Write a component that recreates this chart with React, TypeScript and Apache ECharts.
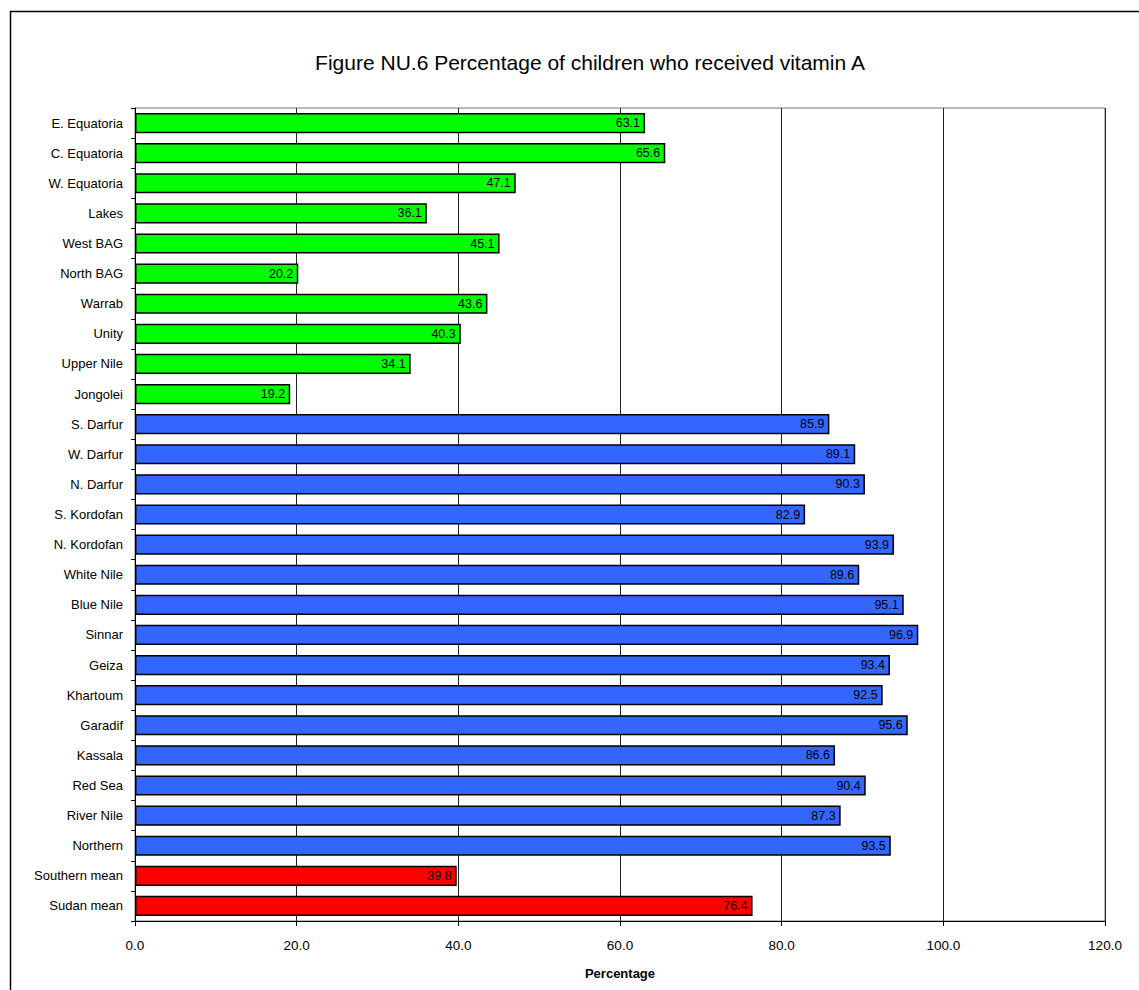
import React, { useEffect, useRef } from "react";
import * as echarts from "echarts";

const categories = [
  "E. Equatoria", "C. Equatoria", "W. Equatoria", "Lakes", "West BAG", "North BAG", "Warrab", "Unity", "Upper Nile", "Jongolei",
  "S. Darfur", "W. Darfur", "N. Darfur", "S. Kordofan", "N. Kordofan", "White Nile", "Blue Nile", "Sinnar", "Geiza", "Khartoum",
  "Garadif", "Kassala", "Red Sea", "River Nile", "Northern", "Southern mean", "Sudan mean",
];
const values = [
  63.1, 65.6, 47.1, 36.1, 45.1, 20.2, 43.6, 40.3, 34.1, 19.2,
  85.9, 89.1, 90.3, 82.9, 93.9, 89.6, 95.1, 96.9, 93.4, 92.5,
  95.6, 86.6, 90.4, 87.3, 93.5, 39.8, 76.4,
];
const groups = [
  "south", "south", "south", "south", "south", "south", "south", "south", "south", "south",
  "north", "north", "north", "north", "north", "north", "north", "north", "north", "north",
  "north", "north", "north", "north", "north", "mean", "mean",
];
const groupColors: Record<string, string> = { south: "#00FF00", north: "#3366FF", mean: "#FF0000" };
const xTicks = [0, 20, 40, 60, 80, 100, 120];

const FONT = "Arial, 'Liberation Sans', sans-serif";

export default function App() {
  const ref = useRef<HTMLDivElement>(null);
  useEffect(() => {
    const chart = echarts.init(ref.current!, null, { renderer: "svg" });
    chart.setOption({
      animation: false,
      backgroundColor: "#fff",
      textStyle: { fontFamily: FONT },
      title: {
        text: "Figure NU.6 Percentage of children who received vitamin A",
        left: 585,
        top: 47,
        textAlign: "center",
        textStyle: { fontSize: 21, fontWeight: "normal", color: "#000", fontFamily: FONT },
      },
      graphic: [
        {
          type: "rect",
          shape: { x: 10.5, y: 11.5, width: 1140, height: 1000 },
          style: { fill: "none", stroke: "#000", lineWidth: 1.5 },
          silent: true,
        },
      ],
      grid: {
        left: 135,
        right: 34,
        top: 108,
        bottom: 69,
        show: true,
        borderColor: "#777",
        borderWidth: 1,
      },
      xAxis: {
        type: "value",
        min: xTicks[0],
        max: xTicks[xTicks.length - 1],
        interval: 20,
        name: "Percentage",
        nameLocation: "middle",
        nameGap: 46,
        nameTextStyle: { fontSize: 13, fontWeight: "bold", color: "#000", fontFamily: FONT },
        axisLine: { show: true, lineStyle: { color: "#000", width: 1 } },
        axisTick: { show: true, length: 5, lineStyle: { color: "#000" } },
        axisLabel: { fontSize: 13.5, color: "#000", margin: 17, fontFamily: FONT, formatter: (v: number) => v.toFixed(1) },
        splitLine: { show: true, lineStyle: { color: "#222", width: 1 } },
      },
      yAxis: {
        type: "category",
        data: categories,
        inverse: true,
        axisLine: { show: true, lineStyle: { color: "#000", width: 1 } },
        axisTick: { show: true, length: 4, lineStyle: { color: "#000" } },
        axisLabel: { fontSize: 13, color: "#000", margin: 12, fontFamily: FONT },
        splitLine: { show: false },
      },
      series: [
        {
          type: "bar",
          barCategoryGap: "33%",
          data: values.map((v, i) => ({
            value: v,
            itemStyle: { color: groupColors[groups[i]], borderColor: "#000", borderWidth: 1.5 },
          })),
          label: {
            show: true,
            position: "insideRight",
            distance: 5,
            fontSize: 12.5,
            color: "#000",
            fontFamily: FONT,
            formatter: (p: any) => Number(p.value).toFixed(1),
          },
        },
      ],
    });
    return () => chart.dispose();
  }, []);
  return <div ref={ref} style={{ position: "absolute", left: 0, top: 0, width: 1139, height: 990 }} />;
}
